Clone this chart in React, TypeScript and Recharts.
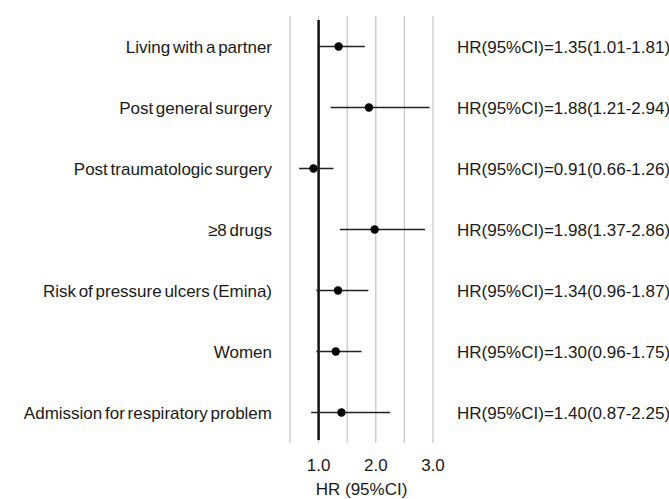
import React from "react";
import {
  ScatterChart,
  Scatter,
  XAxis,
  YAxis,
  CartesianGrid,
  ReferenceLine,
  ErrorBar,
  Label,
} from "recharts";

const labels = [
  "Living with a partner",
  "Post general surgery",
  "Post traumatologic surgery",
  "≥8 drugs",
  "Risk of pressure ulcers (Emina)",
  "Women",
  "Admission for respiratory problem",
];
const hr = [1.35, 1.88, 0.91, 1.98, 1.34, 1.3, 1.4];
const lower = [1.01, 1.21, 0.66, 1.37, 0.96, 0.96, 0.87];
const upper = [1.81, 2.94, 1.26, 2.86, 1.87, 1.75, 2.25];
const xTicks = [0.5, 1, 1.5, 2, 2.5, 3];

const FONT = "'Liberation Sans', Arial, sans-serif";

const data = labels.map((label, i) => ({
  label,
  hr: hr[i],
  err: [hr[i] - lower[i], upper[i] - hr[i]],
  text: `HR(95%CI)=${hr[i].toFixed(2)}(${lower[i].toFixed(2)}-${upper[i].toFixed(2)})`,
}));

function RowTick(props: any) {
  const { x, y, payload } = props;
  const row = data.find((d) => d.label === payload.value);
  return (
    <g fontFamily={FONT} fontSize={17} fill="#1a1a1a">
      <text x={x} y={y} dy={6} textAnchor="end" style={{ wordSpacing: "-2px" }}>
        {payload.value}
      </text>
      <text x={457} y={y} dy={6} textAnchor="start">
        {row ? row.text : ""}
      </text>
    </g>
  );
}

export default function App() {
  return (
    <div style={{ position: "fixed", left: 0, top: 0, width: 669, height: 499, background: "#fff" }}>
      <ScatterChart width={669} height={499} margin={{ top: 16, right: 236, bottom: 0, left: 0 }}>
        <CartesianGrid horizontal={false} stroke="#c8c8c8" strokeWidth={1.3} />
        <XAxis
          type="number"
          dataKey="hr"
          domain={[0.5, 3]}
          ticks={xTicks}
          tickFormatter={(v: number) => (Number.isInteger(v) ? v.toFixed(1) : "")}
          axisLine={false}
          tickLine={false}
          tickMargin={10}
          height={56}
          tick={{ fontSize: 17, fill: "#1a1a1a", fontFamily: FONT }}
        >
          <Label
            value="HR (95%CI)"
            position="insideBottom"
            offset={4}
            style={{ fontSize: 17, fill: "#1a1a1a", fontFamily: FONT }}
          />
        </XAxis>
        <YAxis
          type="category"
          dataKey="label"
          reversed
          width={290}
          axisLine={false}
          tickLine={false}
          tickMargin={12}
          interval={0}
          tick={<RowTick />}
        />
        <ReferenceLine
          x={1}
          stroke="#111"
          strokeWidth={2.5}
          shape={(p: any) => (
            <line x1={p.x1} x2={p.x2} y1={p.y1 - 3} y2={p.y2 + 4} stroke="#111" strokeWidth={2.5} />
          )}
        />
        <Scatter
          data={data}
          isAnimationActive={false}
          shape={(p: any) => <circle cx={p.cx} cy={p.cy} r={4.2} fill="#000" />}
        >
          <ErrorBar dataKey="err" direction="x" width={0} stroke="#222" strokeWidth={1.4} />
        </Scatter>
      </ScatterChart>
    </div>
  );
}
